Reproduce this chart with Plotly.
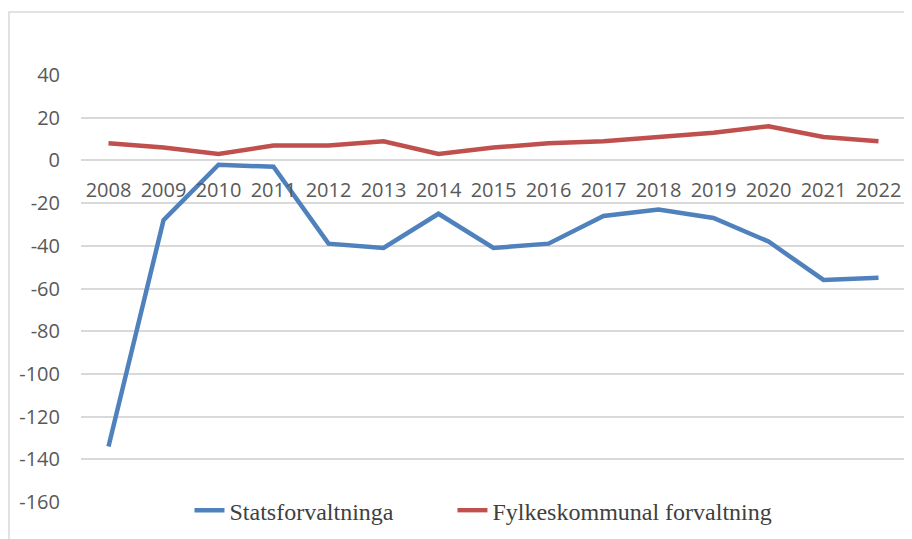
import plotly.graph_objects as go

years = ["2008", "2009", "2010", "2011", "2012", "2013", "2014", "2015",
         "2016", "2017", "2018", "2019", "2020", "2021", "2022"]
stats = [-134, -28, -2, -3, -39, -41, -25, -41, -39, -26, -23, -27, -38, -56, -55]
fylke = [8, 6, 3, 7, 7, 9, 3, 6, 8, 9, 11, 13, 16, 11, 9]
y_ticks = [40, 20, 0, -20, -40, -60, -80, -100, -120, -140, -160]
y_labels = [str(v) for v in y_ticks]
series_names = ["Statsforvaltninga", "Fylkeskommunal forvaltning"]

fig = go.Figure()
fig.add_trace(go.Scatter(x=years, y=stats, mode="lines",
                         name=series_names[0] + "\u00a0" * 9,
                         line=dict(color="#4f81bd", width=4.5)))
fig.add_trace(go.Scatter(x=years, y=fylke, mode="lines", name=series_names[1],
                         line=dict(color="#c0504d", width=4.5)))

fig.update_layout(
    width=904, height=531,
    margin=dict(l=73, r=6, t=67, b=37, autoexpand=False),
    paper_bgcolor="white", plot_bgcolor="white",
    font=dict(family="Open Sans", color="#595959", size=20),
    showlegend=True,
    legend=dict(orientation="h", x=0.1315, xanchor="left", y=-0.02, yanchor="middle",
                font=dict(family="Liberation Serif", size=24, color="#404040"),
                bgcolor="rgba(0,0,0,0)"),
    xaxis=dict(type="category", range=[-0.5, len(years) - 0.5], anchor="free", position=0.8,
               showgrid=False, showline=False, automargin=False,
               ticks="", ticklabelstandoff=16, tickfont=dict(size=20, color="#595959")),
    yaxis=dict(range=[-160, 40], tickvals=y_ticks, ticktext=y_labels, showgrid=True,
               gridcolor="#d9d9d9", gridwidth=1.5, zeroline=False, showline=False,
               automargin=False,
               ticks="", ticklabelstandoff=20, tickfont=dict(size=20, color="#595959")),
    shapes=[dict(type="rect", xref="paper", yref="paper",
                 x0=-0.0873, x1=1.02, y0=-0.2, y1=1.1475,
                 line=dict(color="#d9d9d9", width=1.5), fillcolor="rgba(0,0,0,0)",
                 layer="below")],
)

fig.write_html("out.html")
